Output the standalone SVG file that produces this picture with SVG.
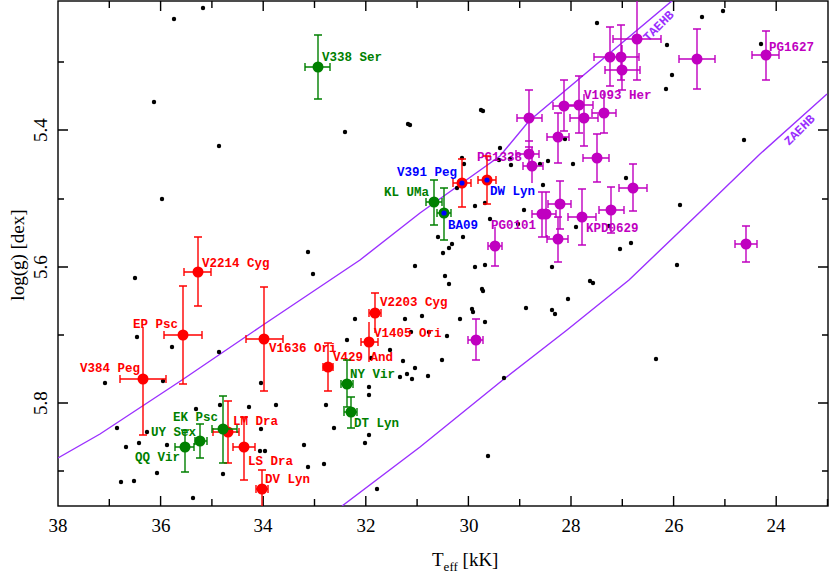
<svg xmlns="http://www.w3.org/2000/svg" width="830" height="576" viewBox="0 0 830 576">
<style>
.lab{font-family:"Liberation Mono",monospace;font-weight:bold;font-size:12.5px}
.tk{font-family:"Liberation Serif","DejaVu Serif",serif;font-size:19px}
.r{fill:#ff0000}.g{fill:#008000}.m{fill:#c000c0}.b{fill:#0000ff}
.er{stroke:#ff0000;fill:none;stroke-width:1.4}.eg{stroke:#008000;fill:none;stroke-width:1.4}.em{stroke:#c000c0;fill:none;stroke-width:1.4}
.cv{stroke:#9b30ff;fill:none;stroke-width:1.4}
</style>
<defs><clipPath id="pa"><rect x="58" y="1" width="770" height="505"/></clipPath></defs>
<rect width="830" height="576" fill="#fff"/>
<g id="frame" stroke="#000" stroke-width="1.4" fill="none">
<rect x="58" y="1" width="770" height="505"/>
<path d="M109.3 506v-7M160.6 506v-10M211.9 506v-7M263.2 506v-10M314.5 506v-7M365.8 506v-10M417.1 506v-7M468.4 506v-10M519.7 506v-7M571 506v-10M622.3 506v-7M673.6 506v-10M724.9 506v-7M776.2 506v-10M827.5 506v-7
M109.3 1v7M160.6 1v10M211.9 1v7M263.2 1v10M314.5 1v7M365.8 1v10M417.1 1v7M468.4 1v10M519.7 1v7M571 1v10M622.3 1v7M673.6 1v10M724.9 1v7M776.2 1v10
M58 62h6M58 130h10M58 199h6M58 267h10M58 335h6M58 403h10M58 471h6
M828 62h-6M828 130h-10M828 199h-6M828 267h-10M828 335h-6M828 403h-10M828 471h-6"/>
</g>
<g id="ticklabels" class="tk" text-anchor="middle">
<text x="58" y="532">38</text><text x="161" y="532">36</text><text x="263" y="532">34</text><text x="366" y="532">32</text><text x="469" y="532">30</text><text x="571" y="532">28</text><text x="674" y="532">26</text><text x="776" y="532">24</text>
<text transform="translate(47 130) rotate(-90)">5.4</text><text transform="translate(47 267) rotate(-90)">5.6</text><text transform="translate(47 403) rotate(-90)">5.8</text>
<text transform="translate(24 255) rotate(-90)">log(g) [dex]</text>
<text x="432" y="566" text-anchor="start">T<tspan font-size="13" dy="5">eff</tspan><tspan dy="-5"> [kK]</tspan></text>
</g>
<g id="curves" clip-path="url(#pa)">
<path class="cv" d="M58 458L100 434L182 380L263 325L360 260L420 213L500 156L529 121L673 0"/>
<path class="cv" d="M342 506L420 447L504 379L567 330L629 280L700 212L760 154L827 94"/>
<text x="0" y="0" class="lab" fill="#9b30ff" font-size="11" transform="translate(648 42) rotate(-45)">TAEHB</text>
<text x="0" y="0" class="lab" fill="#9b30ff" font-size="11" transform="translate(789 146) rotate(-45)">ZAEHB</text>
</g>
<g id="field" fill="#000">
<circle cx="174" cy="19" r="2.2"/><circle cx="203" cy="8" r="2.2"/><circle cx="154" cy="102" r="2.2"/><circle cx="219" cy="146" r="2.2"/><circle cx="162" cy="199" r="2.2"/><circle cx="345" cy="132" r="2.2"/><circle cx="408" cy="124" r="2.2"/><circle cx="135" cy="278" r="2.2"/><circle cx="308" cy="252" r="2.2"/><circle cx="313" cy="274" r="2.2"/><circle cx="415" cy="266" r="2.2"/>
<circle cx="597" cy="23" r="2.2"/><circle cx="723" cy="11" r="2.2"/><circle cx="702" cy="17" r="2.2"/><circle cx="667" cy="45" r="2.2"/><circle cx="672" cy="75" r="2.2"/><circle cx="666" cy="89" r="2.2"/><circle cx="761" cy="44" r="2.2"/><circle cx="481" cy="110" r="2.2"/><circle cx="483" cy="111" r="2.2"/><circle cx="410" cy="125" r="2.2"/><circle cx="565" cy="139" r="2.2"/><circle cx="500" cy="148" r="2.2"/><circle cx="462" cy="158" r="2.2"/><circle cx="464" cy="164" r="2.2"/><circle cx="510" cy="159" r="2.2"/><circle cx="511" cy="165" r="2.2"/><circle cx="499" cy="160" r="2.2"/><circle cx="548" cy="161" r="2.2"/><circle cx="573" cy="164" r="2.2"/><circle cx="540" cy="164" r="2.2"/><circle cx="543" cy="185" r="2.2"/><circle cx="457" cy="188" r="2.2"/><circle cx="626" cy="178" r="2.2"/><circle cx="744" cy="140" r="2.2"/><circle cx="475" cy="206" r="2.2"/><circle cx="485" cy="203" r="2.2"/><circle cx="524" cy="210" r="2.2"/><circle cx="490" cy="219" r="2.2"/><circle cx="518" cy="224" r="2.2"/><circle cx="576" cy="227" r="2.2"/><circle cx="609" cy="226" r="2.2"/><circle cx="680" cy="205" r="2.2"/><circle cx="438" cy="237" r="2.2"/><circle cx="463" cy="237" r="2.2"/><circle cx="452" cy="244" r="2.2"/><circle cx="449" cy="248" r="2.2"/><circle cx="443" cy="253" r="2.2"/><circle cx="475" cy="267" r="2.2"/><circle cx="485" cy="265" r="2.2"/><circle cx="552" cy="267" r="2.2"/><circle cx="620" cy="249" r="2.2"/><circle cx="631" cy="243" r="2.2"/><circle cx="677" cy="265" r="2.2"/><circle cx="445" cy="276" r="2.2"/><circle cx="449" cy="284" r="2.2"/><circle cx="590" cy="281" r="2.2"/><circle cx="593" cy="283" r="2.2"/><circle cx="482" cy="289" r="2.2"/>
<circle cx="105" cy="383" r="2.2"/><circle cx="137" cy="337" r="2.2"/><circle cx="172" cy="347" r="2.2"/><circle cx="163" cy="381" r="2.2"/><circle cx="219" cy="352" r="2.2"/><circle cx="117" cy="428" r="2.2"/><circle cx="126" cy="447" r="2.2"/><circle cx="139" cy="443" r="2.2"/><circle cx="147" cy="432" r="2.2"/><circle cx="167" cy="445" r="2.2"/><circle cx="196" cy="409" r="2.2"/><circle cx="220" cy="405" r="2.2"/><circle cx="157" cy="473" r="2.2"/><circle cx="121" cy="482" r="2.2"/><circle cx="134" cy="481" r="2.2"/><circle cx="193" cy="498" r="2.2"/><circle cx="223" cy="474" r="2.2"/><circle cx="249" cy="407" r="2.2"/><circle cx="261" cy="429" r="2.2"/><circle cx="261" cy="383" r="2.2"/><circle cx="276" cy="405" r="2.2"/><circle cx="260" cy="451" r="2.2"/><circle cx="265" cy="451" r="2.2"/><circle cx="304" cy="445" r="2.2"/><circle cx="308" cy="467" r="2.2"/><circle cx="324" cy="464" r="2.2"/><circle cx="326" cy="405" r="2.2"/><circle cx="334" cy="428" r="2.2"/><circle cx="355" cy="319" r="2.2"/><circle cx="347" cy="340" r="2.2"/><circle cx="369" cy="387" r="2.2"/><circle cx="369" cy="395" r="2.2"/><circle cx="369" cy="435" r="2.2"/><circle cx="365" cy="443" r="2.2"/><circle cx="377" cy="489" r="2.2"/><circle cx="371" cy="358" r="2.2"/><circle cx="405" cy="319" r="2.2"/><circle cx="411" cy="332" r="2.2"/><circle cx="390" cy="350" r="2.2"/><circle cx="403" cy="361" r="2.2"/><circle cx="400" cy="377" r="2.2"/><circle cx="407" cy="374" r="2.2"/><circle cx="412" cy="379" r="2.2"/><circle cx="415" cy="368" r="2.2"/>
<circle cx="483" cy="291" r="2.2"/><circle cx="526" cy="308" r="2.2"/><circle cx="568" cy="299" r="2.2"/><circle cx="552" cy="310" r="2.2"/><circle cx="555" cy="314" r="2.2"/><circle cx="472" cy="309" r="2.2"/><circle cx="473" cy="312" r="2.2"/><circle cx="422" cy="316" r="2.2"/><circle cx="460" cy="319" r="2.2"/><circle cx="485" cy="322" r="2.2"/><circle cx="429" cy="332" r="2.2"/><circle cx="447" cy="336" r="2.2"/><circle cx="442" cy="360" r="2.2"/><circle cx="428" cy="376" r="2.2"/><circle cx="504" cy="378" r="2.2"/><circle cx="656" cy="359" r="2.2"/><circle cx="488" cy="456" r="2.2"/>
</g>
<g id="magenta" clip-path="url(#pa)">
<path class="em" d="M613 39H661M613 35v8M661 35v8M637 0V80M633 80h8
M594 57H623M594 53v8M623 53v8M610 27V86M606 27h8M606 86h8
M608 57H639M608 53v8M639 53v8M621 25V80M617 25h8M617 80h8
M605 70H640M605 66v8M640 66v8M622 45V90M618 90h8
M679 59H715M679 55v8M715 55v8M697 29V89M693 29h8M693 89h8
M752 55H779M752 51v8M779 51v8M766 31V80M762 31h8M762 80h8
M553 106H577M553 102v8M577 102v8M564 80V131M560 80h8M560 131h8
M563 105H593M563 101v8M593 101v8M579 76V133M575 76h8M575 133h8
M570 118H598M570 114v8M598 114v8M584 94V146M580 146h8
M592 113H616M592 109v8M616 109v8M604 92V133M600 133h8
M517 118H542M517 114v8M542 114v8M529 90V147M525 90h8M525 147h8
M547 137H569M547 133v8M569 133v8M558 113V163M554 113h8M554 163h8
M516 154H539M516 150v8M539 150v8M529 141V168M525 141h8
M523 166H543M523 162v8M543 162v8M532 147V183
M583 158H609M583 154v8M609 154v8M597 134V182M593 134h8M593 182h8
M619 188H647M619 184v8M647 184v8M633 164V211M629 164h8M629 211h8
M548 204H571M548 200v8M571 200v8M560 181V229M556 181h8M556 229h8
M532 214H556M532 210v8M556 210v8M542 192V237M546 192V237M538 192h12M538 237h12
M568 217H596M568 213v8M596 213v8M582 189V245M578 189h8M578 245h8
M599 210H624M599 206v8M624 206v8M611 187V233M607 187h8M607 233h8
M547 239H568M547 235v8M568 235v8M558 217V262M554 217h8M554 262h8
M488 246H502M488 242v8M502 242v8M495 227V266M491 266h8
M735 244H757M735 240v8M757 240v8M746 226V262M742 226h8M742 262h8
M468 340H483M468 336v8M483 336v8M476 319V360M472 319h8M472 360h8"/>
<g class="m">
<circle cx="637" cy="39" r="5.5"/><circle cx="610" cy="57" r="5.5"/><circle cx="621" cy="57" r="5.5"/><circle cx="622" cy="70" r="5.5"/><circle cx="697" cy="59" r="5.5"/><circle cx="766" cy="55" r="5.5"/><circle cx="564" cy="106" r="5.5"/><circle cx="579" cy="105" r="5.5"/><circle cx="584" cy="118" r="5.5"/><circle cx="604" cy="113" r="5.5"/><circle cx="529" cy="118" r="5.5"/><circle cx="558" cy="137" r="5.5"/><circle cx="529" cy="154" r="5.5"/><circle cx="532" cy="166" r="5.5"/><circle cx="597" cy="158" r="5.5"/><circle cx="633" cy="188" r="5.5"/><circle cx="560" cy="204" r="5.5"/><circle cx="542" cy="214" r="5.5"/><circle cx="546" cy="214" r="5.5"/><circle cx="582" cy="217" r="5.5"/><circle cx="611" cy="210" r="5.5"/><circle cx="558" cy="239" r="5.5"/><circle cx="495" cy="246" r="5.5"/><circle cx="746" cy="244" r="5.5"/><circle cx="476" cy="340" r="5.5"/>
</g>
<g class="lab m"><text x="769" y="51">PG1627</text><text x="584" y="99">V1093 Her</text><text x="477" y="161">PG1338</text><text x="491" y="229">PG0101</text><text x="586" y="232">KPD0629</text></g>
</g>
<g id="red" clip-path="url(#pa)">
<path class="er" d="M184 272H211M184 268v8M211 268v8M198 237V306M194 237h8M194 306h8
M164 335H202M164 331v8M202 331v8M183 286V384M179 286h8M179 384h8
M120 379H166M120 375v8M166 375v8M143 327V435M139 435h8
M246 339H283M246 335v8M283 335v8M264 287V391M260 287h8M260 391h8
M369 313H381M369 309v8M381 309v8M375 293V333M371 293h8
M361 342H378M361 338v8M378 338v8M369 322V362
M323 367H333M323 363v8M333 363v8M328 343V391M324 343h8M324 391h8
M213 432H239M213 428v8M239 428v8M228 401V463M224 401h8M224 463h8
M233 447H255M233 443v8M255 443v8M244 417V480M240 417h8M240 480h8
M256 489H268M256 485v8M268 485v8M262 470V506M258 470h8
M453 183H471M453 179v8M471 179v8M462 159V207M458 159h8M458 207h8
M478 180H496M478 176v8M496 176v8M487 156V204M483 156h8M483 204h8"/>
<g class="r">
<circle cx="198" cy="272" r="5.5"/><circle cx="183" cy="335" r="5.5"/><circle cx="143" cy="379" r="5.5"/><circle cx="264" cy="339" r="5.5"/><circle cx="375" cy="313" r="5.5"/><circle cx="369" cy="342" r="5.5"/><circle cx="328" cy="367" r="5.5"/><circle cx="228" cy="432" r="5.5"/><circle cx="244" cy="447" r="5.5"/><circle cx="262" cy="489" r="5.5"/><circle cx="462" cy="183" r="5.5"/><circle cx="487" cy="180" r="5.5"/>
</g>
<g class="lab r"><text x="202" y="267">V2214 Cyg</text><text x="178" y="328" text-anchor="end">EP Psc</text><text x="140" y="372" text-anchor="end">V384 Peg</text><text x="269" y="352">V1636 Ori</text><text x="380" y="306">V2203 Cyg</text><text x="374" y="337">V1405 Ori</text><text x="333" y="361">V429 And</text><text x="233" y="425">LM Dra</text><text x="248" y="465">LS Dra</text><text x="265" y="483">DV Lyn</text></g>
</g>
<g id="green">
<path class="eg" d="M305 67H330M305 63v8M330 63v8M318 35V99M314 35h8M314 99h8
M426 202H442M426 198v8M442 198v8M434 180V225M430 180h8M430 225h8
M437 213H451M437 209v8M451 209v8M444 188V240M440 188h8M440 240h8
M341 384H353M341 380v8M353 380v8M347 360V407M343 360h8M343 407h8
M344 412H357M344 408v8M357 408v8M351 397V428M347 397h8M347 428h8
M212 429H237M212 425v8M237 425v8M223 396V463M219 396h8M219 463h8
M195 441H207M195 437v8M207 437v8M200 424V458M196 424h8M196 458h8
M175 447H194M175 443v8M194 443v8M185 430V472M181 430h8M181 472h8"/>
<g class="g">
<circle cx="318" cy="67" r="5.5"/><circle cx="434" cy="202" r="5.5"/><circle cx="444" cy="213" r="5.5"/><circle cx="347" cy="384" r="5.5"/><circle cx="351" cy="412" r="5.5"/><circle cx="223" cy="429" r="5.5"/><circle cx="200" cy="441" r="5.5"/><circle cx="185" cy="447" r="5.5"/>
</g>
<g class="lab g"><text x="322" y="61">V338 Ser</text><text x="429" y="196" text-anchor="end">KL UMa</text><text x="350" y="378">NY Vir</text><text x="354" y="427">DT Lyn</text><text x="218" y="421" text-anchor="end">EK Psc</text><text x="196" y="436" text-anchor="end">UY Sex</text><text x="180" y="461" text-anchor="end">QQ Vir</text></g>
</g>
<g id="blue">
<circle class="b" cx="444" cy="213" r="2.6"/><circle class="b" cx="462" cy="183" r="2.6"/><circle class="b" cx="487" cy="180" r="2.6"/>
<g class="lab b"><text x="448" y="229">BA09</text><text x="457" y="176" text-anchor="end">V391 Peg</text><text x="490" y="195">DW Lyn</text></g>
</g>
</svg>
